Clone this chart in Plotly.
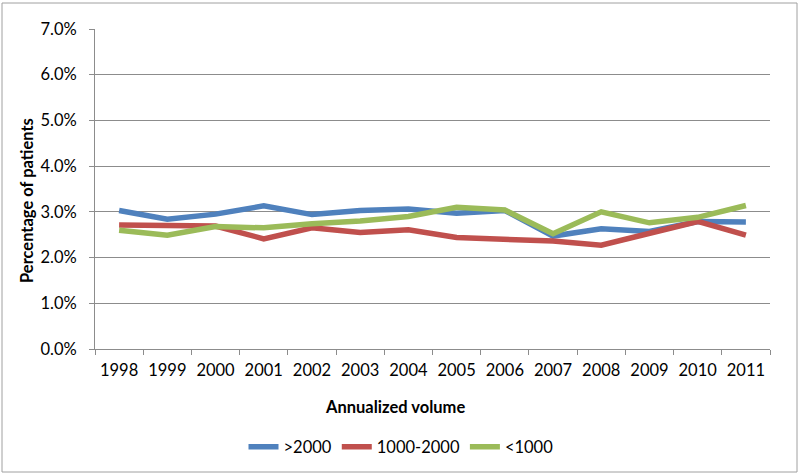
import plotly.graph_objects as go

years = ["1998", "1999", "2000", "2001", "2002", "2003", "2004", "2005", "2006", "2007", "2008", "2009", "2010", "2011"]
over_2000 = [3.03, 2.84, 2.95, 3.13, 2.94, 3.03, 3.06, 2.97, 3.03, 2.47, 2.63, 2.57, 2.79, 2.78]
mid_1000_2000 = [2.71, 2.71, 2.69, 2.41, 2.65, 2.55, 2.61, 2.44, 2.40, 2.36, 2.27, 2.53, 2.79, 2.49]
under_1000 = [2.60, 2.49, 2.68, 2.65, 2.74, 2.80, 2.90, 3.10, 3.04, 2.52, 3.00, 2.76, 2.88, 3.14]
series_names = [">2000", "1000-2000", "<1000"]
colors = ["#4F81BD", "#C0504D", "#9BBB59"]
y_ticks = [0, 1, 2, 3, 4, 5, 6, 7]
y_tick_labels = ["0.0%", "1.0%", "2.0%", "3.0%", "4.0%", "5.0%", "6.0%", "7.0%"]
x_title = "Annualized volume"
y_title = "Percentage of patients"

FONT = "Lato, Carlito, Calibri, sans-serif"
FS = 16.5

fig = go.Figure()
for name, vals, col in zip(series_names, [over_2000, mid_1000_2000, under_1000], colors):
    fig.add_trace(go.Scatter(x=years, y=vals, name=name, mode="lines",
                             line=dict(color=col, width=5.5)))

W, H = 800, 474
ml, mr, mt, mb = 95, 30, 29, 125
pw, ph = W - ml - mr, H - mt - mb

def px_x(p):
    return (p - ml) / pw

def px_y(p):
    return (H - mb - p) / ph

fig.update_layout(
    width=W, height=H,
    margin=dict(l=ml, r=mr, t=mt, b=mb, autoexpand=False),
    paper_bgcolor="white", plot_bgcolor="white",
    font=dict(family=FONT, size=FS, color="#000000"),
    showlegend=True,
    legend=dict(orientation="h", x=px_x(401), xanchor="center", y=px_y(447), yanchor="middle",
                font=dict(family=FONT, size=FS), itemwidth=30, tracegroupgap=0),
    xaxis=dict(type="category", range=[-0.5, 13.5], showgrid=False,
               showline=True, linecolor="#8C8C8C", linewidth=1,
               ticks="outside", tickson="boundaries", ticklen=5, tickcolor="#8C8C8C",
               tickfont=dict(size=FS), ticklabelstandoff=6, fixedrange=True),
    yaxis=dict(range=[0, 7], tickvals=y_ticks, ticktext=y_tick_labels,
               showgrid=True, gridcolor="#8C8C8C", gridwidth=1,
               showline=True, linecolor="#8C8C8C", linewidth=1,
               ticks="outside", ticklen=5, tickcolor="#8C8C8C", zeroline=False,
               tickfont=dict(size=FS), ticklabelstandoff=9),
    annotations=[
        dict(text="<b>" + x_title + "</b>", xref="paper", yref="paper",
             x=px_x(395), y=px_y(407), xanchor="center", yanchor="middle",
             showarrow=False, font=dict(size=FS)),
        dict(text="<b>" + y_title + "</b>", xref="paper", yref="paper",
             x=px_x(27), y=px_y(201), xanchor="center", yanchor="middle",
             textangle=-90, showarrow=False, font=dict(size=FS)),
    ],
    shapes=[dict(type="rect", xref="paper", yref="paper",
                 x0=px_x(2), x1=px_x(797), y0=px_y(472), y1=px_y(3),
                 line=dict(color="#A0A0A0", width=1), fillcolor="rgba(0,0,0,0)", layer="below")],
)

fig.write_html("out.html", config={"displayModeBar": False},
               post_script="document.body.style.margin='0';document.body.style.padding='0';")
